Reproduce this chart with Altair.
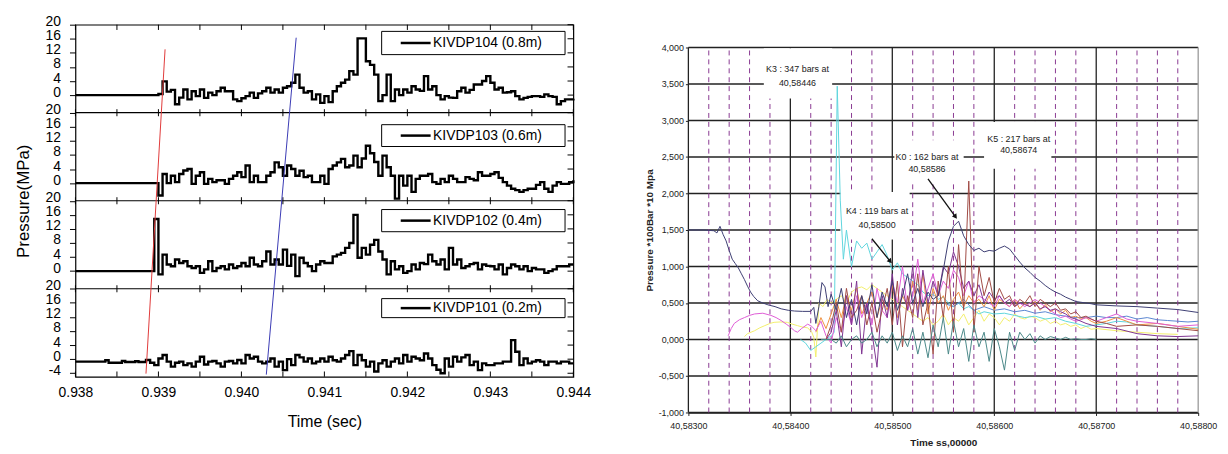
import altair as alt
import pandas as pd

FONT = "Liberation Sans"

# ======================= LEFT FIGURE DATA =======================
# shared time grid (s) for the four pressure traces
T_LEFT = [
    0.93880, 0.93885, 0.93890, 0.93895, 0.93900, 0.93905, 0.93910, 0.93915, 0.93920, 0.93925,
    0.93930, 0.93935, 0.93940, 0.93945, 0.93950, 0.93955, 0.93960, 0.93965, 0.93970, 0.93975,
    0.93980, 0.93985, 0.93990, 0.93995, 0.94000, 0.94005, 0.94010, 0.94015, 0.94020, 0.94025,
    0.94030, 0.94035, 0.94040, 0.94045, 0.94050, 0.94055, 0.94060, 0.94065, 0.94070, 0.94075,
    0.94080, 0.94085, 0.94090, 0.94095, 0.94100, 0.94105, 0.94110, 0.94115, 0.94120, 0.94125,
    0.94130, 0.94135, 0.94140, 0.94145, 0.94150, 0.94155, 0.94160, 0.94165, 0.94170, 0.94175,
    0.94180, 0.94185, 0.94190, 0.94195, 0.94200, 0.94205, 0.94210, 0.94215, 0.94220, 0.94225,
    0.94230, 0.94235, 0.94240, 0.94245, 0.94250, 0.94255, 0.94260, 0.94265, 0.94270, 0.94275,
    0.94280, 0.94285, 0.94290, 0.94295, 0.94300, 0.94305, 0.94310, 0.94315, 0.94320, 0.94325,
    0.94330, 0.94335, 0.94340, 0.94345, 0.94350, 0.94355, 0.94360, 0.94365, 0.94370, 0.94375,
    0.94380, 0.94385, 0.94390, 0.94395, 0.94400]

P104 = [0, 0, 0, 0, 0.3, 3.9, 1.0, 1.5, -2.6, -0.7,
        1.6, -1.2, 1.1, -0.3, 1.6, -0.8, 0.7, 0.0, 1.1, 2.1,
        1.1, 1.1, -1.2, -1.7, -0.9, -0.3, 0.7, -0.8, 0.5, 1.1,
        2.1, 0.7, 1.6, 0.7, 2.1, 2.5, 3.5, 5.8, 2.1, 0.7,
        1.1, -1.2, 0.2, -2.2, -0.3, -2.0, 1.1, 2.5, 3.5, 4.4,
        6.8, 5.8, 16.1, 16.1, 9.6, 8.6, 5.8, -1.7, 0.0, 5.8,
        -1.7, 1.6, 0.0, 1.6, 0.7, 2.5, 1.6, 1.2, 5.4, 1.6,
        2.5, 0.0, -1.2, -0.3, -0.7, -0.8, 1.1, 2.1, 0.7, 1.5,
        3.0, 3.0, 4.0, 5.4, 3.5, 1.6, 2.1, 0.7, 0.8, 1.1,
        -0.3, -1.2, -0.8, -0.5, -0.3, -0.3, -0.5, 0.2, -0.3, -0.5,
        -2.6, -1.7, -1.2, -1.2, -1.0]

P103 = [0, 0, 0, 0, -3.5, 2.6, 0.0, 2.1, 0.3, 2.6,
        3.6, 4.0, -0.2, 2.1, 3.1, -0.2, 1.2, 0.3, 0.8, 0.8,
        -0.2, 1.2, 2.1, 3.1, 1.7, 5.0, 0.3, 2.1, 0.3, 0.3,
        2.1, 3.1, 5.9, 4.5, 2.1, 5.0, 4.0, 2.1, 3.5, 1.7,
        2.1, 0.3, 0.3, 2.1, -0.2, 4.0, 5.0, 5.9, 6.9, 4.5,
        5.0, 7.8, 4.5, 7.0, 10.6, 8.5, 6.0, 2.1, 7.8, 4.5,
        2.1, -4.4, 2.1, -0.7, 2.1, -2.5, 1.2, 2.1, 2.1, 2.6,
        0.3, -0.2, 1.2, 0.3, 2.1, 1.2, 0.3, 0.3, 1.7, 1.2,
        0.8, 3.1, 2.1, 2.1, 2.6, 3.1, 1.5, 0.3, -0.7, -1.6,
        -2.0, -2.5, -2.0, -1.6, -1.6, -0.5, 0.3, -1.6, -2.5, -0.7,
        0.3, -0.2, -0.2, 0.3, 0.8]

P102 = [0, 0, 0, 14.8, -0.9, 4.7, 1.9, 1.4, 3.3, 2.3,
        2.8, 1.4, 0.9, 1.4, -0.5, 0.5, 2.8, 0.0, 0.9, 1.4,
        0.5, 1.9, 0.9, 1.4, 2.3, 1.4, 3.8, 1.9, 1.4, 2.8,
        5.6, 1.9, 3.3, 1.9, 6.1, 1.5, 4.7, -1.4, 3.8, 2.3,
        1.4, 0.0, 1.9, 2.8, 2.3, 2.3, 4.2, 4.7, 5.2, 6.6,
        8.0, 16.0, 3.8, 6.6, 4.7, 7.5, 8.9, 5.6, 3.3, -0.9,
        2.8, 0.5, 1.4, -0.5, 0.0, 1.9, 0.5, 2.3, 2.0, 4.7,
        2.8, 1.9, 3.3, 0.5, 6.6, 1.9, 3.3, 0.9, 1.4, 2.0,
        2.3, 0.5, 1.9, 1.5, 1.4, 0.5, 1.9, -0.9, 0.9, 1.9,
        1.4, 0.5, 1.4, 0.0, 0.9, 0.5, 0.5, -0.5, 0.0, 0.5,
        1.4, 1.4, 1.4, 1.9, 1.9]

P101 = [-0.8, -0.25, -1.0, -1.7, 0.2, 1.2, -0.7, -2.1, -1.0, -0.7,
        -1.7, -1.2, -2.1, -0.7, 0.7, -1.5, -0.7, -0.5, -1.2, -2.1,
        -0.7, -0.5, -1.2, -0.25, -1.2, 1.2, 0.2, 0.7, -0.7, -1.2,
        -0.7, 0.2, -2.1, -0.7, -3.1, 0.0, -1.7, 1.2, 0.5, -0.7,
        0.2, -1.2, -0.7, 0.2, -0.7, 0.7, -0.3, -0.7, 0.2, 1.2,
        2.3, -1.7, 1.2, -0.3, -2.1, -0.7, -3.5, -1.2, -0.3, -2.1,
        -0.7, 0.2, -1.2, 1.2, -0.7, 0.7, 0.2, -0.3, 1.6, 0.2,
        -1.7, -3.0, -4.0, 0.2, -2.1, 0.7, -0.7, 0.5, 1.2, -1.7,
        -0.7, -3.1, -1.2, -1.7, -1.7, -1.2, -1.2, -0.7, -0.7, 5.4,
        2.1, -1.7, 0.2, -1.2, -0.7, -0.3, -0.7, -1.7, -0.7, -0.7,
        -1.2, -0.7, -0.7, -1.2, -1.2]

HEAD_T = [0.93800]
HEAD_V = [0.0]
P101_HEAD_T = [0.93800, 0.93834, 0.93836, 0.93840, 0.93856, 0.93860, 0.93872, 0.93876]
P101_HEAD_V = [-0.7, -0.7, -0.3, -1.0, -0.5, -0.8, -0.6, -0.8]

PANEL_NAMES = ["KIVDP104 (0.8m)", "KIVDP103 (0.6m)", "KIVDP102 (0.4m)", "KIVDP101 (0.2m)"]
XL_TICKS = [0.938, 0.939, 0.940, 0.941, 0.942, 0.943, 0.944]
XL_MINOR = [0.9380, 0.9385, 0.9390, 0.9395, 0.9400, 0.9405, 0.9410,
            0.9415, 0.9420, 0.9425, 0.9430, 0.9435, 0.9440]
YL_LOCAL = [0, 4, 8, 12, 16, 20]

# slanted arrival lines (time, stacked y)
RED_T = [0.93885, 0.93908]
RED_Y = [0.9, 93.0]
BLUE_T = [0.94030, 0.94066]
BLUE_Y = [0.6, 96.3]

# ---- layout of the stacked panels (positions, not data) ----
PANEL_BASE = [80, 55, 30, 5]        # stacked y of each panel's zero
LEG_LO = [11.5, 10.4, 11.2, 11.8]
LEG_HI = [18.1, 16.6, 17.5, 17.2]
LEG_X = [0.94169, 0.94390]
LEG_LINE_X = [0.94192, 0.94228]
LEG_TEXT_X = 0.94231

rows = []
heads = [(HEAD_T, HEAD_V), (HEAD_T, HEAD_V), (HEAD_T, HEAD_V), (P101_HEAD_T, P101_HEAD_V)]
for name, vals, base, (ht, hv) in zip(PANEL_NAMES, [P104, P103, P102, P101], PANEL_BASE, heads):
    for t, v in zip(ht + T_LEFT, hv + vals):
        rows.append({"t": t, "y": v + base, "panel": name})
df_left = pd.DataFrame(rows)

yl_ticks = sorted(set([b + v for b in PANEL_BASE for v in YL_LOCAL] + [PANEL_BASE[-1] - 4]))

XL_SCALE = alt.Scale(domain=[0.938, 0.944], nice=False, zero=False)
YL_SCALE = alt.Scale(domain=[0, 100], nice=False, zero=False)
XL_AXIS = alt.Axis(values=XL_TICKS, format=".3f", title="Time (sec)", ticks=False, tickSize=0,
                   labelFontSize=14, titleFontSize=16, titleFontWeight="normal", labelPadding=9,
                   titlePadding=14, labelFlush=False, labelOverlap=False, grid=False, domain=False,
                   labelColor="black", titleColor="black")
YL_AXIS = alt.Axis(values=yl_ticks, labelExpr="(datum.value - 5) % 25", title="Pressure(MPa)",
                   tickSize=6, labelPadding=9, labelOffset=-3, labelFontSize=14, titleFontSize=17,
                   titleFontWeight="normal", titlePadding=13, labelOverlap=False, grid=False,
                   domain=False, tickColor="black", labelColor="black", titleColor="black")


def lx(f="t"):
    return alt.X(f"{f}:Q", scale=XL_SCALE, axis=XL_AXIS)


def ly(f="y"):
    return alt.Y(f"{f}:Q", scale=YL_SCALE, axis=YL_AXIS)


traces = alt.Chart(df_left).mark_line(interpolate="step-after", color="black", strokeWidth=2.4).encode(
    x=lx(), y=ly(), detail="panel:N")

df_div = pd.DataFrame({"y": [25, 50, 75]})
dividers = alt.Chart(df_div).mark_rule(color="black", strokeWidth=1.2).encode(y=ly())

tick_rows = []
for xt in XL_MINOR:
    tick_rows.append({"x": xt, "y": 100, "y2": 98.5})
    tick_rows.append({"x": xt, "y": 0, "y2": 1.5})
    for d in [25, 50, 75]:
        tick_rows.append({"x": xt, "y": d - 1.0, "y2": d + 1.0})
vticks = alt.Chart(pd.DataFrame(tick_rows)).mark_rule(color="black", strokeWidth=1).encode(
    x=lx("x"), y=ly("y"), y2="y2:Q")
rticks = alt.Chart(pd.DataFrame({"y": yl_ticks, "x": [0.94393] * len(yl_ticks),
                                 "x2": [0.944] * len(yl_ticks)})).mark_rule(
    color="black", strokeWidth=1).encode(x=lx("x"), x2="x2:Q", y=ly("y"))

df_slant = pd.DataFrame({"x": [RED_T[0], BLUE_T[0]], "x2": [RED_T[1], BLUE_T[1]],
                         "y": [RED_Y[0], BLUE_Y[0]], "y2": [RED_Y[1], BLUE_Y[1]],
                         "c": ["#e03a3a", "#3a3ab4"]})
slants = alt.Chart(df_slant).mark_rule(strokeWidth=1).encode(
    x=lx("x"), x2="x2:Q", y=ly("y"), y2="y2:Q", color=alt.Color("c:N", scale=None))

df_leg = pd.DataFrame({
    "name": PANEL_NAMES,
    "x": [LEG_X[0]] * 4, "x2": [LEG_X[1]] * 4,
    "y": [b + lo for b, lo in zip(PANEL_BASE, LEG_LO)],
    "y2": [b + hi for b, hi in zip(PANEL_BASE, LEG_HI)],
    "ym": [b + (lo + hi) / 2 for b, lo, hi in zip(PANEL_BASE, LEG_LO, LEG_HI)],
    "lx": [LEG_LINE_X[0]] * 4, "lx2": [LEG_LINE_X[1]] * 4, "tx": [LEG_TEXT_X] * 4,
})
leg_box = alt.Chart(df_leg).mark_rect(fill="white", stroke="black", strokeWidth=1).encode(
    x=lx("x"), x2="x2:Q", y=ly("y"), y2="y2:Q")
leg_line = alt.Chart(df_leg).mark_rule(color="black", strokeWidth=2.5).encode(
    x=lx("lx"), x2="lx2:Q", y=ly("ym"))
leg_text = alt.Chart(df_leg).mark_text(align="left", baseline="middle", fontSize=14, color="black").encode(
    x=lx("tx"), y=ly("ym"), text="name:N")

left = alt.layer(traces, dividers, vticks, rticks, slants, leg_box, leg_line, leg_text).properties(
    width=502, height=355, view=alt.ViewBackground(stroke="black", strokeWidth=1.2))

# ======================= RIGHT FIGURE DATA =======================
T_R = [40.58440, 40.58445, 40.58450, 40.58455, 40.58460, 40.58465, 40.58470, 40.58475, 40.58480, 40.58485,
       40.58490, 40.58495, 40.58500, 40.58505, 40.58510, 40.58515, 40.58520, 40.58525, 40.58530, 40.58535,
       40.58540, 40.58545, 40.58550, 40.58555, 40.58560, 40.58565, 40.58570, 40.58575, 40.58580, 40.58585,
       40.58590, 40.58595, 40.58600, 40.58605, 40.58610, 40.58615, 40.58620, 40.58625, 40.58630, 40.58635,
       40.58640, 40.58645, 40.58650, 40.58655, 40.58660, 40.58665, 40.58670, 40.58675, 40.58680, 40.58685,
       40.58690, 40.58695, 40.58700]

NAVY_HEAD_T = [40.58300, 40.58315, 40.58325, 40.58328, 40.58331, 40.58334, 40.58337, 40.58340, 40.58343,
               40.58346, 40.58349, 40.58352, 40.58355, 40.58358, 40.58361, 40.58364, 40.58368, 40.58373,
               40.58378, 40.58385, 40.58391, 40.58398, 40.58404, 40.58412, 40.58420, 40.58423, 40.58425,
               40.58428, 40.58431, 40.58434, 40.58437]
NAVY_HEAD_V = [1.50, 1.50, 1.49, 1.46, 1.55, 1.44, 1.35, 1.22, 1.10,
               1.04, 0.98, 0.90, 0.82, 0.73, 0.65, 0.59, 0.53, 0.50,
               0.475, 0.45, 0.42, 0.40, 0.39, 0.385, 0.385, 0.44, 0.22,
               0.45, 0.78, 0.72, 0.45]
NAVY_MID = [0.62, 0.4, 0.7, 0.3, 0.55, 0.2, 0.6, 0.35, 0.75, 0.3,
            0.65, 0.45, 0.8, 0.4, 0.6, 0.9, 0.5, 0.7, 0.45, 0.65,
            0.55, 0.6, 0.95, 1.35, 1.55, 1.62, 1.42, 1.3, 1.22, 1.25,
            1.2, 1.22, 1.21, 1.25, 1.28, 1.24, 1.15, 1.06, 0.98, 0.92,
            0.85, 0.8, 0.74, 0.69, 0.65, 0.62, 0.58, 0.55, 0.52, 0.51,
            0.5, 0.49, 0.475]
NAVY_TAIL_T = [40.58720, 40.58740, 40.58760, 40.58780, 40.58800]
NAVY_TAIL_V = [0.46, 0.45, 0.43, 0.41, 0.37]

CYAN_T = [40.58410, 40.58415, 40.58420, 40.58425, 40.58430, 40.58435, 40.58440, 40.58443, 40.58446, 40.58449,
          40.58452, 40.58455, 40.58460, 40.58465, 40.58470, 40.58475, 40.58480, 40.58485, 40.58490, 40.58495,
          40.58500, 40.58505, 40.58510, 40.58515, 40.58520, 40.58525, 40.58530, 40.58535, 40.58540, 40.58545,
          40.58550, 40.58555, 40.58560, 40.58565, 40.58570, 40.58575, 40.58580, 40.58585, 40.58590, 40.58600,
          40.58610, 40.58620, 40.58630, 40.58640, 40.58650, 40.58660, 40.58670, 40.58680, 40.58690, 40.58700,
          40.58710, 40.58720, 40.58730, 40.58740, 40.58760, 40.58780, 40.58800]
CYAN_V = [0.0, -0.05, -0.15, -0.1, -0.05, 0.0, 0.05, 0.1, 3.47, 1.9,
          1.1, 1.5, 1.0, 1.35, 1.25, 1.32, 1.1, 1.2, 1.3, 1.15,
          0.95, 1.05, 0.9, 0.85, 0.8, 0.75, 0.65, 0.6, 0.62, 0.55,
          0.58, 0.5, 0.45, 0.5, 0.42, 0.45, 0.4, 0.35, 0.38, 0.35,
          0.36, 0.33, 0.3, 0.32, 0.28, 0.3, 0.25, 0.22, 0.18, 0.2,
          0.22, 0.25, 0.24, 0.2, 0.18, 0.15, 0.16]

ORANGE_HEAD_T = [40.58425, 40.58430, 40.58435]
ORANGE_HEAD_V = [0.1, 0.3, 0.15]
ORANGE_MID = [0.35, 0.55, 0.3, 0.6, 0.4, 0.7, 0.35, 0.5, 0.65, 0.3,
              0.55, 0.4, 0.75, 0.3, 0.6, 0.45, 0.8, 0.4, 0.9, 0.35,
              0.7, 0.5, 0.6, 0.4, 0.55, 0.65, 0.45, 0.6, 0.5, 0.55,
              0.45, 0.6, 0.4, 0.55, 0.5, 0.45, 0.55, 0.42, 0.5, 0.45,
              0.52, 0.4, 0.48, 0.38, 0.42, 0.35, 0.4, 0.3, 0.32, 0.28,
              0.3, 0.25, 0.22]
ORANGE_TAIL_T = [40.58710, 40.58720, 40.58730, 40.58740, 40.58760, 40.58780, 40.58800]
ORANGE_TAIL_V = [0.25, 0.3, 0.25, 0.2, 0.22, 0.18, 0.14]

PURPLE_HEAD_T = [40.58435]
PURPLE_HEAD_V = [0.0]
PURPLE_MID = [0.1, 0.4, -0.1, 0.6, 0.2, 0.8, -0.2, 0.5, 0.1, -0.38,
              0.6, 0.3, 0.9, 0.2, 0.7, 0.4, 1.0, 0.3, 0.95, 0.5,
              0.8, 0.6, 1.0, 0.9, 1.2, 1.0, 0.7, 0.8, 0.6, 0.75,
              0.5, 0.65, 0.55, 0.6, 0.5, 0.55, 0.45, 0.5, 0.48, 0.45,
              0.5, 0.42, 0.45, 0.4, 0.42, 0.38, 0.35, 0.3, 0.28, 0.25,
              0.22, 0.2, 0.18]
PURPLE_TAIL_T = [40.58720, 40.58740, 40.58760, 40.58780, 40.58800]
PURPLE_TAIL_V = [0.15, 0.08, 0.05, 0.04, 0.05]

MAGENTA_HEAD_T = [40.58339, 40.58342, 40.58345, 40.58350, 40.58355, 40.58360, 40.58365, 40.58373, 40.58381,
                  40.58386, 40.58391, 40.58396, 40.58400, 40.58404, 40.58407, 40.58411, 40.58417, 40.58421,
                  40.58425, 40.58430, 40.58435]
MAGENTA_HEAD_V = [0.05, 0.15, 0.22, 0.27, 0.30, 0.33, 0.35, 0.36, 0.33,
                  0.30, 0.26, 0.21, 0.17, 0.12, 0.10, 0.15, 0.21, 0.18,
                  0.12, 0.25, 0.05]
MAGENTA_MID = [-0.05, 0.3, 0.1, 0.45, 0.2, 0.6, 0.3, 0.5, 0.2, 0.7,
               0.4, 0.3, 0.8, 0.5, 1.0, 0.4, 0.6, 1.1, 0.5, 0.7,
               0.9, 0.6, 0.8, 0.7, 0.95, 0.85, 0.6, 0.8, 0.5, 0.6,
               0.55, 0.5, 0.45, 0.6, 0.5, 0.45, 0.55, 0.5, 0.45, 0.5,
               0.55, 0.5, 0.45, 0.4, 0.35, 0.3, 0.32, 0.28, 0.25, 0.27,
               0.3, 0.28, 0.25]
MAGENTA_TAIL_T = [40.58710, 40.58720, 40.58730, 40.58740, 40.58760, 40.58780, 40.58800]
MAGENTA_TAIL_V = [0.3, 0.35, 0.28, 0.25, 0.22, 0.18, 0.2]

YELLOW_HEAD_T = [40.58355, 40.58358, 40.58365, 40.58370, 40.58375, 40.58380, 40.58384, 40.58390, 40.58397,
                 40.58402, 40.58407, 40.58412, 40.58417, 40.58421, 40.58423, 40.58425, 40.58428, 40.58432,
                 40.58436]
YELLOW_HEAD_V = [0.04, 0.08, 0.12, 0.16, 0.19, 0.22, 0.235, 0.24, 0.235,
                 0.21, 0.19, 0.17, 0.16, 0.1, 0.03, -0.24, 0.5, 0.45,
                 0.55]
YELLOW_MID = [0.5, 0.55, 0.6, 0.5, 0.65, 0.7, 0.72, 0.68, 0.75, 0.7,
              0.65, 0.6, 0.55, 0.5, 0.45, 0.4, 0.35, 0.3, 0.25, 0.3,
              0.2, 0.25, 0.35, 0.2, 0.3, 0.25, 0.35, 0.2, 0.3, 0.4,
              0.25, 0.35, 0.3, 0.2, 0.3, 0.25, 0.35, 0.3, 0.28, 0.32,
              0.3, 0.25, 0.28, 0.22, 0.25, 0.2, 0.22, 0.18, 0.2, 0.15,
              0.18, 0.14, 0.15]
YELLOW_TAIL_T = [40.58720, 40.58740, 40.58760, 40.58780]
YELLOW_TAIL_V = [0.12, 0.1, 0.08, 0.07]

BROWN_HEAD_T = [40.58435]
BROWN_HEAD_V = [0.0]
BROWN_MID = [0.2, 0.5, 0.1, 0.7, 0.3, 0.4, 0.6, 0.2, 0.5, 0.1,
             0.4, 0.7, 0.2, 0.8, -0.1, 0.6, 0.3, 0.9, 0.2, 0.5,
             -0.2, 0.8, 0.3, 1.0, 0.1, 1.3, 0.4, 2.17, 0.1, 1.0,
             0.6, 0.85, 0.5, 0.7, 0.55, 0.6, 0.45, 0.55, 0.5, 0.6,
             0.45, 0.55, 0.5, 0.45, 0.5, 0.4, 0.42, 0.35, 0.38, 0.3,
             0.32, 0.28, 0.25]
BROWN_TAIL_T = [40.58710, 40.58720, 40.58740, 40.58760, 40.58780, 40.58800]
BROWN_TAIL_V = [0.22, 0.18, 0.2, 0.18, 0.15, 0.12]

TEAL_HEAD_T = [40.58430, 40.58435]
TEAL_HEAD_V = [0.0, 0.0]
TEAL_MID = [0.0, -0.05, 0.05, -0.1, 0.0, 0.05, -0.05, 0.0, 0.1, -0.1,
            0.05, -0.05, 0.1, -0.15, 0.05, -0.1, 0.15, -0.2, 0.1, -0.25,
            0.2, -0.1, 0.3, -0.2, 0.25, -0.1, 0.15, -0.3, 0.2, -0.1,
            0.1, -0.3, 0.15, -0.1, -0.42, 0.1, -0.15, 0.1, 0.0, 0.08,
            -0.05, 0.05, 0.0, 0.04, 0.02, 0.0, 0.03, 0.0, 0.01, 0.0,
            0.0, 0.01, 0.0]

BLUE_T2 = [40.58550, 40.58560, 40.58570, 40.58580, 40.58590, 40.58600, 40.58610, 40.58620, 40.58630,
           40.58640, 40.58650, 40.58660, 40.58670, 40.58680, 40.58690, 40.58700, 40.58710, 40.58720,
           40.58730, 40.58740, 40.58750, 40.58760, 40.58770, 40.58780, 40.58790, 40.58800]
BLUE_V2 = [0.5, 0.45, 0.55, 0.4, 0.45, 0.4, 0.42, 0.38, 0.4,
           0.36, 0.38, 0.34, 0.32, 0.3, 0.3, 0.32, 0.3, 0.3,
           0.32, 0.28, 0.3, 0.27, 0.26, 0.25, 0.24, 0.25]

XR_MAJOR = [40.583, 40.584, 40.585, 40.586, 40.587, 40.588]
XR_MINOR = [40.5832, 40.5834, 40.5836, 40.5838, 40.5842, 40.5844, 40.5846, 40.5848,
            40.5852, 40.5854, 40.5856, 40.5858, 40.5862, 40.5864, 40.5866, 40.5868,
            40.5872, 40.5874, 40.5876, 40.5878]
YR_TICKS = [-1.0, -0.5, 0.0, 0.5, 1.0, 1.5, 2.0, 2.5, 3.0, 3.5, 4.0]

ANN_LINE1 = ["K3 : 347 bars at", "K4 : 119 bars at", "K0 : 162 bars at", "K5 : 217 bars at"]
ANN_LINE2 = ["40,58446", "40,58500", "40,58586", "40,58674"]
ANN_T = [40.58407, 40.58485, 40.58534, 40.58624]
ANN_V1 = [3.70, 1.76, 2.50, 2.75]
ANN_V2 = [3.52, 1.57, 2.34, 2.59]
BOX_T1 = [40.58374, 40.58449, 40.58502, 40.58590]
BOX_T2 = [40.58441, 40.58517, 40.58570, 40.58656]
BOX_V1 = [3.30, 1.37, 2.13, 2.34]
BOX_V2 = [3.99, 2.02, 2.73, 2.98]
ARROW_T1 = [40.58480, 40.58535]
ARROW_V1 = [1.38, 2.20]
ARROW_T2 = [40.58498, 40.58562]
ARROW_V2 = [1.07, 1.68]
ARROW_ANG = [140, 144]

XR_SCALE = alt.Scale(domain=[40.583, 40.588], nice=False, zero=False)
YR_SCALE = alt.Scale(domain=[-1.0, 4.3125], nice=False, zero=False)
XR_AXIS = alt.Axis(values=XR_MAJOR, labelExpr="replace(format(datum.value, '.5f'), '.', ',')",
                   title="Time ss,00000", titleFontSize=10, titleFontWeight="bold", labelFontSize=9,
                   tickSize=3, labelPadding=6, titlePadding=7, labelFlush=False, labelOverlap=False,
                   grid=False, domainColor="#222", domainWidth=1.3, tickColor="#222",
                   labelColor="#222", titleColor="#222")
YR_AXIS = alt.Axis(values=YR_TICKS,
                   labelExpr="(datum.value < 0 ? '-' : '') + replace(format(abs(datum.value), '.3f'), '.', ',')",
                   title="Pressure *100Bar *10 Mpa", titleFontSize=10, titleFontWeight="bold",
                   labelFontSize=9, tickSize=3, labelPadding=2, titlePadding=4, titleY=207,
                   domain=False, grid=False, labelOverlap=False, tickColor="#222",
                   labelColor="#222", titleColor="#222")


def rx(f="t"):
    return alt.X(f"{f}:Q", scale=XR_SCALE, axis=XR_AXIS)


def ry(f="v"):
    return alt.Y(f"{f}:Q", scale=YR_SCALE, axis=YR_AXIS)


df_h = pd.DataFrame({"v": YR_TICKS, "x1": [40.583] * len(YR_TICKS), "x2": [40.588] * len(YR_TICKS)})
hgrid = alt.Chart(df_h).mark_rule(color="#222", strokeWidth=1.3).encode(x=rx("x1"), x2="x2:Q", y=ry("v"))
df_vmaj = pd.DataFrame({"t": XR_MAJOR[:-1], "v1": [-1.0] * 5, "v2": [4.0] * 5})
vmaj = alt.Chart(df_vmaj).mark_rule(color="#222", strokeWidth=1.3).encode(x=rx("t"), y=ry("v1"), y2="v2:Q")
df_vmin = pd.DataFrame({"t": XR_MINOR, "v1": [-1.0] * len(XR_MINOR), "v2": [4.0] * len(XR_MINOR)})
vmin = alt.Chart(df_vmin).mark_rule(color="#8a3a92", strokeWidth=1, strokeDash=[5, 4]).encode(
    x=rx("t"), y=ry("v1"), y2="v2:Q")
df_border = pd.DataFrame({"t": [40.588], "v1": [-1.0], "v2": [4.0]})
border = alt.Chart(df_border).mark_rule(color="#9a9a9a", strokeWidth=1.3).encode(x=rx("t"), y=ry("v1"), y2="v2:Q")

df_box = pd.DataFrame({"t1": BOX_T1, "t2": BOX_T2, "v1": BOX_V1, "v2": BOX_V2})
boxes = alt.Chart(df_box).mark_rect(fill="white").encode(x=rx("t1"), x2="t2:Q", y=ry("v1"), y2="v2:Q")


def series_df(head_t, head_v, mid, tail_t, tail_v):
    ts = list(head_t) + T_R[:len(mid)] + list(tail_t)
    vs = list(head_v) + list(mid) + list(tail_v)
    return pd.DataFrame({"t": ts, "v": vs})


SERIES = [
    (series_df(YELLOW_HEAD_T, YELLOW_HEAD_V, YELLOW_MID, YELLOW_TAIL_T, YELLOW_TAIL_V), "#f3ef6c"),
    (pd.DataFrame({"t": CYAN_T, "v": CYAN_V}), "#5fd6de"),
    (pd.DataFrame({"t": BLUE_T2, "v": BLUE_V2}), "#5a86d0"),
    (series_df(ORANGE_HEAD_T, ORANGE_HEAD_V, ORANGE_MID, ORANGE_TAIL_T, ORANGE_TAIL_V), "#ee9040"),
    (series_df(MAGENTA_HEAD_T, MAGENTA_HEAD_V, MAGENTA_MID, MAGENTA_TAIL_T, MAGENTA_TAIL_V), "#df5cd6"),
    (series_df(PURPLE_HEAD_T, PURPLE_HEAD_V, PURPLE_MID, PURPLE_TAIL_T, PURPLE_TAIL_V), "#803592"),
    (series_df(BROWN_HEAD_T, BROWN_HEAD_V, BROWN_MID, BROWN_TAIL_T, BROWN_TAIL_V), "#a04a44"),
    (series_df(TEAL_HEAD_T, TEAL_HEAD_V, TEAL_MID, [], []), "#4a8888"),
    (series_df(NAVY_HEAD_T, NAVY_HEAD_V, NAVY_MID, NAVY_TAIL_T, NAVY_TAIL_V), "#3d3e72"),
]
line_layers = [alt.Chart(d).mark_line(color=c, strokeWidth=1.0).encode(x=rx(), y=ry()) for d, c in SERIES]

df_ann = pd.DataFrame({"t": ANN_T, "v1": ANN_V1, "v2": ANN_V2, "l1": ANN_LINE1, "l2": ANN_LINE2})
ann1 = alt.Chart(df_ann).mark_text(fontSize=9, color="#222").encode(x=rx("t"), y=ry("v1"), text="l1:N")
ann2 = alt.Chart(df_ann).mark_text(fontSize=9, color="#222").encode(x=rx("t"), y=ry("v2"), text="l2:N")
df_arr = pd.DataFrame({"t1": ARROW_T1, "v1": ARROW_V1, "t2": ARROW_T2, "v2": ARROW_V2, "a": ARROW_ANG})
arr_line = alt.Chart(df_arr).mark_rule(color="#111", strokeWidth=1.3).encode(
    x=rx("t1"), x2="t2:Q", y=ry("v1"), y2="v2:Q")
arr_head = alt.Chart(df_arr).mark_point(shape="triangle-up", filled=True, size=30, color="#111", opacity=1).encode(
    x=rx("t2"), y=ry("v2"), angle=alt.Angle("a:Q", scale=None))

right = alt.layer(hgrid, vmaj, vmin, border, boxes, *line_layers, ann1, ann2, arr_line, arr_head).properties(
    width=514, height=391, view=alt.ViewBackground(stroke="transparent"))

chart = alt.hconcat(left, right, spacing=51).properties(
    padding={"left": 5, "top": 4, "right": 2, "bottom": 0}
).configure(font=FONT)

chart.save("out.html", embed_options={"renderer": "svg", "actions": False})
